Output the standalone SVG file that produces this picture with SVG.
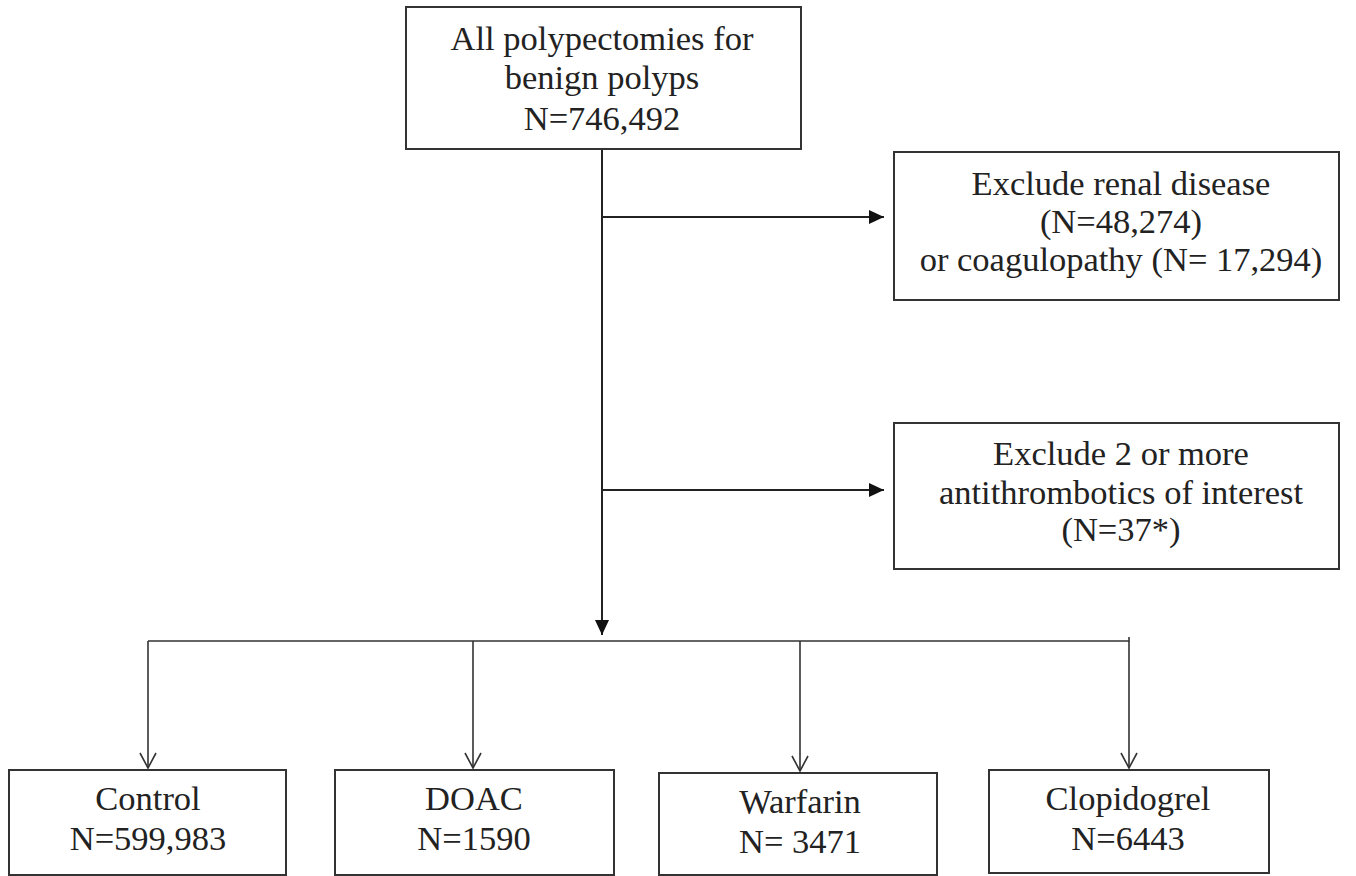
<svg xmlns="http://www.w3.org/2000/svg" width="1356" height="876" viewBox="0 0 1356 876">
<style>
.box{fill:#fff;stroke:#333;stroke-width:2}
.t{font-family:"Liberation Serif","Times New Roman",serif;font-size:34.5px;fill:#222;text-anchor:middle}
.c{fill:none;stroke:#222;stroke-width:2}
.c1{fill:none;stroke:#333;stroke-width:1.6}
</style>
<defs>
<marker id="fa" markerWidth="16" markerHeight="14" refX="15" refY="7" orient="auto" markerUnits="userSpaceOnUse">
<path d="M0,0 L15,7 L0,14 Z" fill="#111"/>
</marker>
<marker id="oa" markerWidth="20" markerHeight="18" refX="16" refY="9" orient="auto" markerUnits="userSpaceOnUse">
<path d="M1,1 L16,9 L1,17" fill="none" stroke="#333" stroke-width="1.6"/>
</marker>
</defs>
<rect width="1356" height="876" fill="#fff"/>
<g id="connectors">
<line class="c" x1="602" y1="150" x2="602" y2="635" marker-end="url(#fa)"/>
<line class="c" x1="602" y1="217" x2="884" y2="217" marker-end="url(#fa)"/>
<line class="c" x1="602" y1="490" x2="884" y2="490" marker-end="url(#fa)"/>
<polyline class="c1" points="148,641 1129,641 1129,637"/>
<line class="c1" x1="148" y1="641" x2="148" y2="768" marker-end="url(#oa)"/>
<line class="c1" x1="473" y1="641" x2="473" y2="768" marker-end="url(#oa)"/>
<line class="c1" x1="800" y1="641" x2="800" y2="771" marker-end="url(#oa)"/>
<line class="c1" x1="1129" y1="641" x2="1129" y2="768" marker-end="url(#oa)"/>
</g>
<g id="n-all">
<rect class="box" x="406" y="7" width="395" height="142"/>
<text class="t" x="602" y="50">All polypectomies for</text>
<text class="t" x="602" y="89">benign polyps</text>
<text class="t" x="602" y="130">N=746,492</text>
</g>
<g id="n-renal">
<rect class="box" x="894" y="152" width="445" height="148"/>
<text class="t" x="1121" y="195">Exclude renal disease</text>
<text class="t" x="1121" y="233">(N=48,274)</text>
<text class="t" x="1121" y="271">or coagulopathy (N= 17,294)</text>
</g>
<g id="n-anti">
<rect class="box" x="894" y="423" width="445" height="146"/>
<text class="t" x="1121" y="465">Exclude 2 or more</text>
<text class="t" x="1121" y="504">antithrombotics of interest</text>
<text class="t" x="1121" y="541">(N=37*)</text>
</g>
<g id="n-control">
<rect class="box" x="9" y="770" width="277" height="105"/>
<text class="t" x="148" y="810">Control</text>
<text class="t" x="148" y="850">N=599,983</text>
</g>
<g id="n-doac">
<rect class="box" x="335" y="770" width="279" height="105"/>
<text class="t" x="474" y="810">DOAC</text>
<text class="t" x="474" y="850">N=1590</text>
</g>
<g id="n-warfarin">
<rect class="box" x="659" y="773" width="278" height="102"/>
<text class="t" x="800" y="813">Warfarin</text>
<text class="t" x="800" y="853">N= 3471</text>
</g>
<g id="n-clopidogrel">
<rect class="box" x="989" y="770" width="280" height="103"/>
<text class="t" x="1128" y="810">Clopidogrel</text>
<text class="t" x="1128" y="850">N=6443</text>
</g>
</svg>
